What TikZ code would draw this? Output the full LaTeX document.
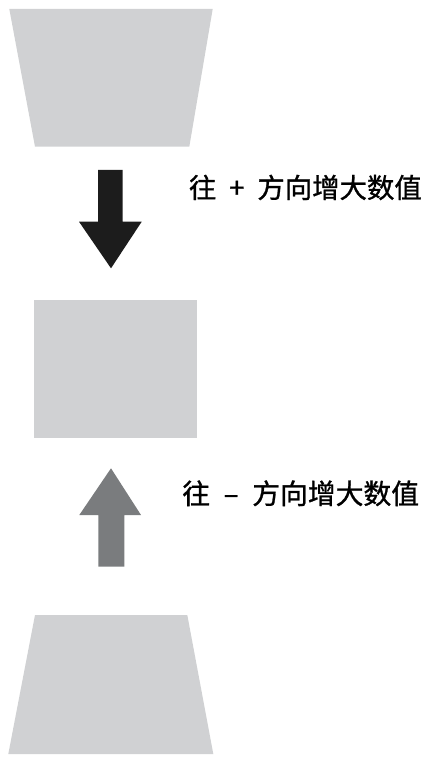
\documentclass[tikz,border=0pt]{standalone}
\usepackage{fontspec}
\newfontfamily\cjk[FakeBold=1]{Noto Sans CJK SC}
\definecolor{panel}{RGB}{208,209,211}
\definecolor{darkarrow}{RGB}{28,28,28}
\definecolor{grayarrow}{RGB}{122,124,126}
\tikzset{
  panelshape/.style={fill=panel},
  label/.style={anchor=base west, inner sep=0pt, outer sep=0pt, font=\cjk\fontsize{27.4pt}{30pt}\selectfont, text=black}
}
\begin{document}
\begin{tikzpicture}[x=1pt,y=-1pt]
\useasboundingbox (0,0) rectangle (429,762);
% top trapezoid
\fill[panelshape] (9.3,9) -- (212.7,9) -- (189.3,146.7) -- (35,146.7) -- cycle;
% middle rectangle
\fill[panelshape] (34,300) rectangle (196.7,438.3);
% bottom trapezoid
\fill[panelshape] (35,615) -- (187.3,615) -- (213.3,754) -- (8.3,754) -- cycle;
% down arrow (black)
\fill[darkarrow] (98,170) -- (122.7,170) -- (122.7,221.7) -- (141.7,221.7) -- (111,268.3) -- (79,221.7) -- (98,221.7) -- cycle;
% up arrow (gray)
\fill[grayarrow] (111,468.3) -- (141,515) -- (124.3,515) -- (124.3,566.7) -- (98.3,566.7) -- (98.3,515) -- (79.3,515) -- cycle;
% labels
\node[label] (plus) at (189,197.9) {往\makebox[41pt]{+}方向增大数值};
\node[label, font=\cjk\fontsize{27.8pt}{30pt}\selectfont] (minus) at (182.3,503.9) {往\makebox[42.2pt]{–}方向增大数值};
\end{tikzpicture}
\end{document}
